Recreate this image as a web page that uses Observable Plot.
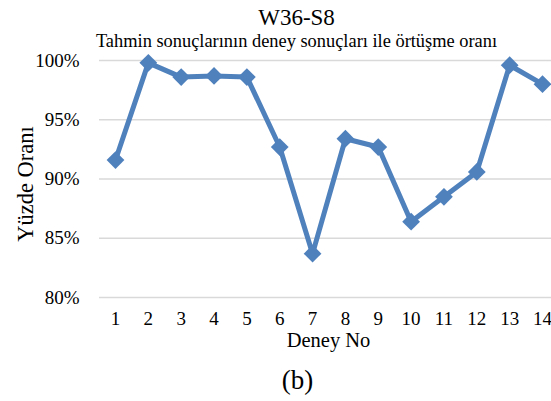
<!DOCTYPE html>
<html>
<head>
<meta charset="utf-8">
<script src="https://cdn.jsdelivr.net/npm/d3@7"></script>
<script src="https://cdn.jsdelivr.net/npm/@observablehq/plot@0.6"></script>
<style>
  html, body { margin: 0; padding: 0; background: #fff; }
  #chart svg { display: block; }
  #chart svg, #chart svg text { font-family: "Liberation Serif", "Times New Roman", serif !important; }
</style>
</head>
<body>
<div id="chart"></div>
<script>
const deneyNo = [1, 2, 3, 4, 5, 6, 7, 8, 9, 10, 11, 12, 13, 14];
const yuzdeOrani = [91.6, 99.8, 98.6, 98.7, 98.6, 92.7, 83.7, 93.4, 92.7, 86.4, 88.5, 90.6, 99.6, 98.0];
const yTicks = [80, 85, 90, 95, 100];
const title = "W36-S8";
const subtitle = "Tahmin sonuçlarının deney sonuçları ile örtüşme oranı";
const xLabel = "Deney No";
const yLabel = "Yüzde Oranı";
const caption = "(b)";

const data = deneyNo.map((d, i) => ({ x: d, y: yuzdeOrani[i] }));
const color = "#4f81bd";
const font = "Liberation Serif";

const chart = Plot.plot({
  width: 551,
  height: 401,
  marginTop: 60,
  marginBottom: 104,
  marginLeft: 99,
  marginRight: 0,
  style: { fontFamily: font, fontSize: "19px", color: "#000", background: "#fff" },
  x: { type: "linear", domain: [0.513, 14.274], ticks: deneyNo, tickFormat: d => String(d) },
  y: { domain: [80, 100], ticks: yTicks, tickFormat: d => d + "%" },
  marks: [
    Plot.gridY(yTicks, { stroke: "#d9d9d9", strokeOpacity: 1, strokeWidth: 1.5 }),
    Plot.axisY(yTicks, { tickSize: 0, tickPadding: 20, fontSize: 19, fontFamily: font, label: null, tickFormat: d => d + "%" }),
    Plot.axisX(deneyNo, { tickSize: 0, tickPadding: 14, fontSize: 19, fontFamily: font, label: null }),
    Plot.line(data, { x: "x", y: "y", stroke: color, strokeWidth: 5, strokeLinejoin: "miter" }),
    Plot.dot(data, { x: "x", y: "y", symbol: "diamond2", r: 8, fill: color, stroke: "none" }),
    Plot.text([title], { text: d => d, frameAnchor: "top-left", dx: 197, dy: -42.5, fontSize: 23, fontFamily: font, textAnchor: "middle", lineAnchor: "middle" }),
    Plot.text([subtitle], { text: d => d, frameAnchor: "top-left", dx: 197, dy: -19, fontSize: 18.4, fontFamily: font, textAnchor: "middle", lineAnchor: "middle" }),
    Plot.text([xLabel], { text: d => d, frameAnchor: "bottom-left", dx: 229, dy: 43, fontSize: 20.5, fontFamily: font, textAnchor: "middle", lineAnchor: "middle" }),
    Plot.text([caption], { text: d => d, frameAnchor: "bottom-left", dx: 198, dy: 83, fontSize: 27, fontFamily: font, textAnchor: "middle", lineAnchor: "middle" }),
    Plot.text([yLabel], { text: d => d, frameAnchor: "left", dx: -74, dy: 5, rotate: -90, fontSize: 22.5, fontFamily: font, textAnchor: "middle", lineAnchor: "middle" })
  ]
});
document.getElementById("chart").appendChild(chart);
</script>
</body>
</html>
